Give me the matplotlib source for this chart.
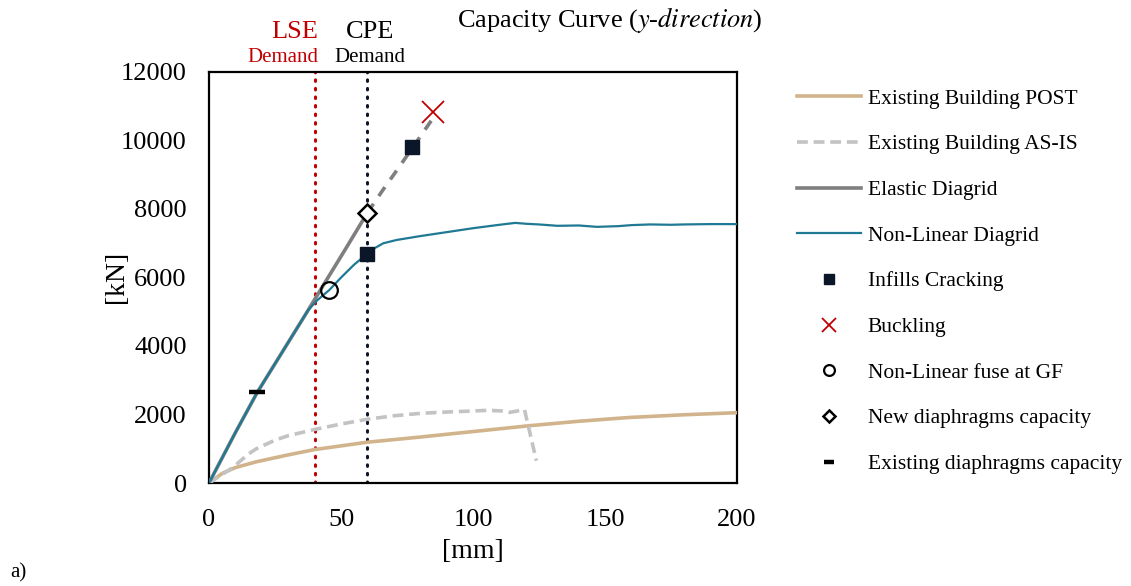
import matplotlib
matplotlib.use("Agg")
import matplotlib.pyplot as plt
import numpy as np

plt.rcParams['font.family'] = ['Liberation Serif', 'DejaVu Serif']
plt.rcParams['mathtext.fontset'] = 'stix'

# ---- data: displacement [mm], base shear [kN] ----
post_x = [0, 5, 10, 18, 30, 40, 60, 80, 100, 121, 140, 159, 180, 200]
post_y = [0, 280, 450, 620, 820, 975, 1190, 1340, 1500, 1668, 1800, 1910, 1990, 2050]

asis_x = [0, 5, 9, 15, 18, 25, 30, 40, 50, 60, 70, 80, 90, 100, 106, 111, 114, 119.5, 124]
asis_y = [0, 250, 450, 850, 1000, 1250, 1380, 1560, 1720, 1860, 1960, 2030, 2070, 2100, 2120, 2100, 2060, 2140, 650]

elastic_x = [0, 10, 18.3, 28, 37.6, 45, 52, 60]
elastic_y = [0, 1470, 2645, 3850, 5045, 5980, 6860, 7880]
elastic_ext_x = [60, 66, 72.3, 78, 84.5]
elastic_ext_y = [7880, 8560, 9244, 9880, 10600]

nonlin_x = [0, 10, 18.3, 28, 37.6, 41, 45.6, 50, 55, 58, 60, 63, 66, 71, 80, 91.3, 100, 110, 116,
            120, 125, 132, 140, 147, 155, 160, 167, 175, 180, 190, 200]
nonlin_y = [0, 1470, 2645, 3850, 5045, 5330, 5630, 5990, 6370, 6560, 6680, 6860, 6990, 7086, 7200, 7330, 7430, 7530, 7585,
            7560, 7540, 7500, 7510, 7470, 7490, 7520, 7540, 7530, 7540, 7550, 7550]

cracking_x = [60, 77]
cracking_y = [6680, 9810]
buckling_x = [85]
buckling_y = [10810]
fuse_x = [45.6]
fuse_y = [5630]
new_diaph_x = [60]
new_diaph_y = [7880]
old_diaph_x = [18.3]
old_diaph_y = [2645]

lse_demand = 40
cpe_demand = 60

x_ticks = [0, 50, 100, 150, 200]
y_ticks = [0, 2000, 4000, 6000, 8000, 10000, 12000]

# ---- colours ----
c_post = '#d2b48c'
c_asis = '#c3c3c3'
c_elastic = '#7f7f7f'
c_nonlin = '#1f7894'
c_red = '#c00000'
c_navy = '#0b1628'

fig = plt.figure(figsize=(11.31, 5.86), dpi=100)
ax = fig.add_axes([209 / 1131, 1 - 483 / 586, 528 / 1131, 411.5 / 586])

ax.axvline(lse_demand, color=c_red, lw=2.2, ls=(0, (0.5, 2.3)), dash_capstyle='round', zorder=2)
ax.axvline(cpe_demand, color=c_navy, lw=2.2, ls=(0, (0.5, 2.3)), dash_capstyle='round', zorder=2)

h_post, = ax.plot(post_x, post_y, color=c_post, lw=2.6, label='Existing Building POST', zorder=3)
h_asis, = ax.plot(asis_x, asis_y, color=c_asis, lw=2.6, ls=(0, (3, 1.6)), label='Existing Building AS-IS', zorder=3)
h_el, = ax.plot(elastic_x, elastic_y, color=c_elastic, lw=2.6, label='Elastic Diagrid', zorder=4)
ax.plot(elastic_ext_x, elastic_ext_y, color=c_elastic, lw=2.6, ls=(0, (3, 2.6)), zorder=4)
h_nl, = ax.plot(nonlin_x, nonlin_y, color=c_nonlin, lw=1.6, label='Non-Linear Diagrid', zorder=5)

h_cr, = ax.plot(cracking_x, cracking_y, ls='none', marker='s', ms=10.5, color=c_navy,
                label='Infills Cracking', zorder=6)
h_bk, = ax.plot(buckling_x, buckling_y, ls='none', marker='x', ms=16, mew=1.3, color=c_red,
                label='Buckling', zorder=6)
h_fu, = ax.plot(fuse_x, fuse_y, ls='none', marker='o', ms=12, mew=1.6, mfc='none', mec='black',
                label='Non-Linear fuse at GF', zorder=6)
h_nd, = ax.plot(new_diaph_x, new_diaph_y, ls='none', marker='D', ms=9.5, mew=1.8, mfc='white', mec='black',
                label='New diaphragms capacity', zorder=6)
h_od, = ax.plot(old_diaph_x, old_diaph_y, ls='none', marker='_', ms=11, mew=3.2, color='black',
                label='Existing diaphragms capacity', zorder=6)

ax.set_xlim(0, 200)
ax.set_ylim(0, 12000)
ax.set_xticks(x_ticks)
ax.set_yticks(y_ticks)
ax.tick_params(length=0, labelsize=19)
ax.tick_params(axis='y', pad=16)
ax.tick_params(axis='x', pad=18.5)
for s in ax.spines.values():
    s.set_linewidth(1.6)
    s.set_color('black')

ax.set_xlabel('[mm]', fontsize=20, labelpad=6)
ax.set_ylabel('[kN]', fontsize=20)
ax.yaxis.set_label_coords((129 - 209) / 528, 0.5)

# headers above the demand lines
fig.text(318 / 1131, 1 - 32 / 586, 'LSE', color=c_red, fontsize=19, ha='right', va='center')
fig.text(318 / 1131, 1 - 58 / 586, 'Demand', color=c_red, fontsize=15, ha='right', va='center')
fig.text(370 / 1131, 1 - 32 / 586, 'CPE', color='black', fontsize=19, ha='center', va='center')
fig.text(370 / 1131, 1 - 58 / 586, 'Demand', color='black', fontsize=15, ha='center', va='center')
fig.text(610 / 1131, 1 - 20 / 586, 'Capacity Curve ($\\mathit{y}$-$\\mathit{direction}$)', fontsize=19,
         ha='center', va='center')
fig.text(10 / 1131, 1 - 573 / 586, 'a)', fontsize=15, ha='left', va='center')

handles = [h_post, h_asis, h_el, h_nl, h_cr, h_bk, h_fu, h_nd, h_od]
leg = fig.legend(handles=handles, loc='upper left', bbox_to_anchor=(788 / 1131, 1 - 80 / 586),
                 frameon=False, fontsize=15.5, handlelength=3.0, handletextpad=0.3,
                 labelspacing=1.19, markerscale=0.65, borderaxespad=0)

fig.savefig('out.png', dpi=100)
